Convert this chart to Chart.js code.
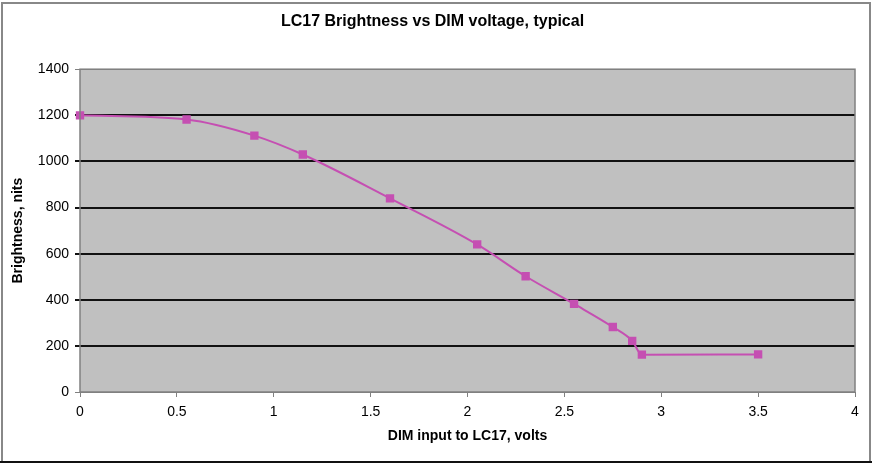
<!DOCTYPE html>
<html>
<head>
<meta charset="utf-8">
<script src="https://cdn.jsdelivr.net/npm/chart.js@4.4.1/dist/chart.umd.min.js"></script>
<style>
  html, body { margin: 0; padding: 0; background: #fff; }
  #wrap { width: 872px; height: 464px; }
</style>
</head>
<body>
<div id="wrap"><canvas id="dimChart" width="872" height="464"></canvas></div>
<script>
// values
const dimVolts   = [0, 0.55, 0.9, 1.15, 1.6, 2.05, 2.3, 2.55, 2.75, 2.85, 2.9, 3.5];
const brightness = [1200, 1182, 1112, 1030, 840, 640, 502, 382, 282, 222, 162, 163];
const xTicks = [0, 0.5, 1, 1.5, 2, 2.5, 3, 3.5, 4];
const yTicks = [0, 200, 400, 600, 800, 1000, 1200, 1400];

const points = dimVolts.map((v, i) => ({ x: v, y: brightness[i] }));

// grey plot area + outer frame, like the Excel original
const frame = {
    id: 'frame',
    beforeDraw(chart) {
        const c = chart.ctx, a = chart.chartArea;
        c.save();
        c.fillStyle = '#fff';
        c.fillRect(0, 0, chart.width, chart.height);
        c.fillStyle = '#c0c0c0';
        c.fillRect(a.left, a.top, a.right - a.left, a.bottom - a.top);
        c.strokeStyle = '#888';
        c.lineWidth = 2;
        c.strokeRect(2, 3, chart.width - 4, chart.height - 5);
        c.strokeStyle = '#111';
        c.beginPath();
        c.moveTo(0, chart.height - 2);
        c.lineTo(chart.width, chart.height - 2);
        c.stroke();
        c.restore();
    },
    afterDraw(chart) {
        const c = chart.ctx, a = chart.chartArea;
        c.save();
        c.strokeStyle = '#808080';
        c.lineWidth = 1.5;
        c.strokeRect(a.left, a.top, a.right - a.left, a.bottom - a.top);
        c.restore();
    }
};

const ctx = document.getElementById('dimChart').getContext('2d');
new Chart(ctx, {
    type: 'line',
    data: {
        datasets: [{
            data: points,
            borderColor: '#c54fb2',
            backgroundColor: '#c54fb2',
            borderWidth: 2,
            pointStyle: 'rect',
            pointRadius: 4.5,
            pointHoverRadius: 4.5,
            cubicInterpolationMode: 'monotone',
            clip: false
        }]
    },
    plugins: [frame],
    options: {
        responsive: false,
        animation: false,
        layout: { padding: { left: 10, right: 17, top: 0, bottom: 16 } },
        plugins: {
            legend: { display: false },
            tooltip: { enabled: false },
            title: {
                display: true,
                text: 'LC17 Brightness vs DIM voltage, typical',
                color: '#000',
                font: { family: 'Liberation Sans, Arial', size: 16, weight: 'bold' },
                padding: { top: 12, bottom: 38 }
            }
        },
        scales: {
            x: {
                type: 'linear',
                min: 0,
                max: 4,
                afterBuildTicks: s => { s.ticks = xTicks.map(v => ({ value: v })); },
                afterFit: s => { s.height = 56; },
                ticks: {
                    color: '#000',
                    font: { family: 'Liberation Sans Narrow, Liberation Sans, Arial', size: 14 },
                    maxRotation: 0,
                    padding: 7,
                    callback: v => String(v)
                },
                grid: { drawOnChartArea: false, color: '#808080', tickLength: 5 },
                border: { display: false },
                title: {
                    display: true,
                    text: 'DIM input to LC17, volts',
                    color: '#000',
                    font: { family: 'Liberation Sans, Arial', size: 14, weight: 'bold' },
                    padding: { top: 8, bottom: 3 }
                }
            },
            y: {
                min: 0,
                max: 1400,
                afterBuildTicks: s => { s.ticks = yTicks.map(v => ({ value: v })); },
                afterFit: s => { s.width = 70; },
                ticks: {
                    color: '#000',
                    font: { family: 'Liberation Sans, Arial', size: 14 },
                    padding: 6,
                    callback: v => String(v)
                },
                grid: {
                    color: ctx => (ctx.tick && ctx.tick.value > 0 && ctx.tick.value < 1400) ? '#111' : '#808080',
                    lineWidth: ctx => (ctx.tick && ctx.tick.value > 0 && ctx.tick.value < 1400) ? 2 : 1,
                    tickLength: 5
                },
                border: { display: false },
                title: {
                    display: true,
                    text: 'Brightness, nits',
                    color: '#000',
                    font: { family: 'Liberation Sans, Arial', size: 14, weight: 'bold' },
                    padding: { top: 0, bottom: 6 }
                }
            }
        }
    }
});
</script>
</body>
</html>
